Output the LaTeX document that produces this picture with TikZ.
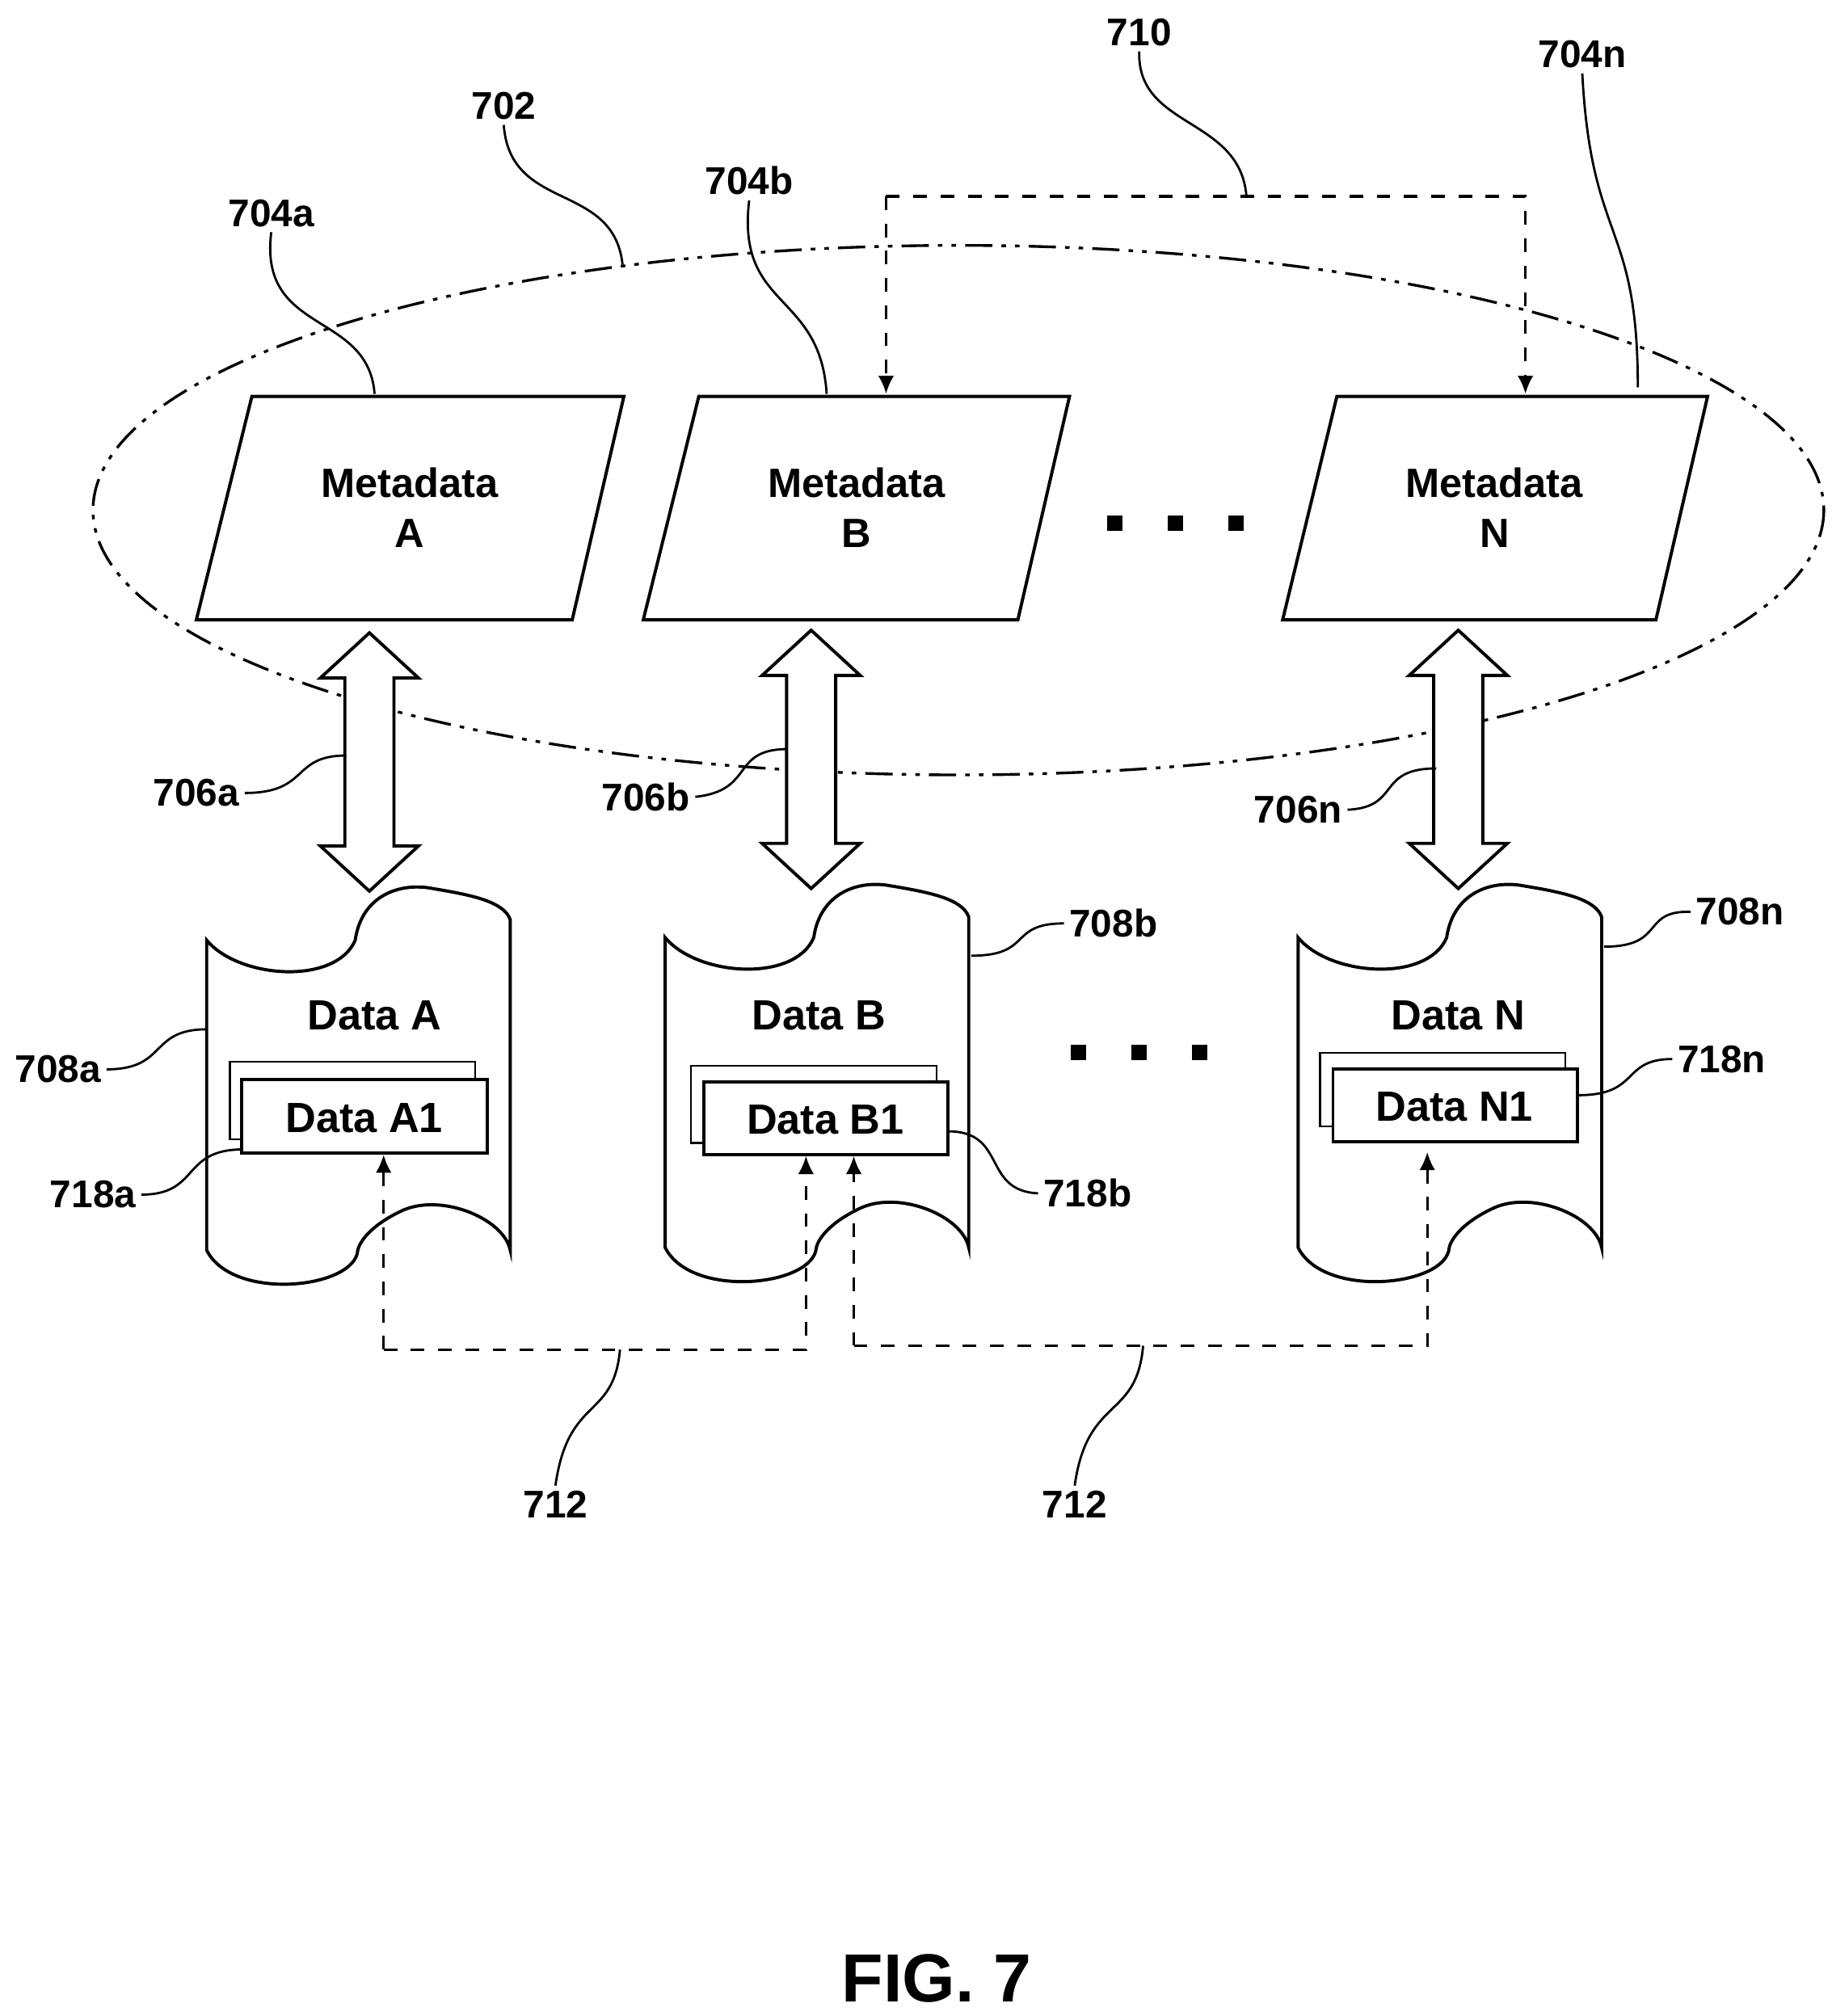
\documentclass[tikz,border=0pt]{standalone}
\usepackage{fontspec}
\setmainfont{Liberation Sans}
\usetikzlibrary{calc,arrows.meta}
\tikzset{>=latex}
\tikzset{
  lbl/.style={font=\bfseries\fontsize{8.5}{10}\selectfont, inner sep=1pt},
  txt/.style={font=\bfseries\fontsize{9}{11}\selectfont, align=center},
  dtxt/.style={font=\bfseries\fontsize{9.3}{11}\selectfont},
  leader/.style={line width=0.5pt},
  link/.style={dashed, line width=0.6pt, ->, >={Latex[length=4pt,width=3.5pt]}},
  shp/.style={line width=0.7pt},
}
\begin{document}
\begin{tikzpicture}[x=0.01cm,y=-0.01cm]
\useasboundingbox (0,0) rectangle (1418,1561);
% group ellipse
\draw [line width=0.6pt, dash pattern=on 6pt off 2pt on 1pt off 2pt on 1pt off 2pt] (742,395) ellipse [x radius=670, y radius=205];
% metadata
\draw [shp, fill=white] (195,307)--(483,307)--(443,480)--(152,480)--cycle;
\draw [shp, fill=white] (541,307)--(828,307)--(788,480)--(498,480)--cycle;
\draw [shp, fill=white] (1035,307)--(1322,307)--(1282,480)--(993,480)--cycle;
\node [txt] (metaA) at (317,393) {Metadata\\A};
\node [txt] (metaB) at (663,393) {Metadata\\B};
\node [txt] (metaN) at (1157,393) {Metadata\\N};
\foreach \x in {863,910,957} \fill (\x-6,399) rectangle (\x+6,411);
\foreach \x in {835,882,929} \fill (\x-6,809) rectangle (\x+6,821);
% double arrows
\foreach \x/\a/\b in {286/490/690, 628/488/688, 1129/488/688}
  \draw [shp, fill=white] (\x,\a)--(\x+38,\a+35)--(\x+19,\a+35)--(\x+19,\b-35)--(\x+38,\b-35)--(\x,\b)
     --(\x-38,\b-35)--(\x-19,\b-35)--(\x-19,\a+35)--(\x-38,\a+35)--cycle;
% storage
\foreach \l/\t in {160/688, 515/686, 1005/686} {
  \draw [shp, fill=white] (\l,\t+40) .. controls (\l+25,\t+70) and (\l+100,\t+75) .. (\l+115,\t+40)
     .. controls (\l+120,\t+5) and (\l+150,\t-5) .. (\l+175,\t)
     .. controls (\l+205,\t+5) and (\l+230,\t+10) .. (\l+235,\t+24)
     -- (\l+235,\t+280)
     .. controls (\l+230,\t+255) and (\l+180,\t+235) .. (\l+150,\t+250)
     .. controls (\l+125,\t+262) and (\l+118,\t+275) .. (\l+117,\t+280)
     .. controls (\l+115,\t+310) and (\l+20,\t+320) .. (\l,\t+280) -- cycle;
}
\node [dtxt] (dataA) at (290,786) {Data A};
\node [dtxt] (dataB) at (634,786) {Data B};
\node [dtxt] (dataN) at (1129,786) {Data N};
\draw [line width=0.4pt, fill=white] (178,822) rectangle (368,882);
\draw [shp, fill=white] (187,836) rectangle (377,893);
\node [dtxt] (dataA1) at (282,866) {Data A1};
\draw [line width=0.4pt, fill=white] (535,825) rectangle (725,885);
\draw [shp, fill=white] (545,838) rectangle (734,894);
\node [dtxt] (dataB1) at (639,867) {Data B1};
\draw [line width=0.4pt, fill=white] (1022,815) rectangle (1212,872);
\draw [shp, fill=white] (1032,828) rectangle (1221,884);
\node [dtxt] (dataN1) at (1126,857) {Data N1};
% links
\draw [link] (686,152) -- (686,305);
\draw [link] (686,152) -- (1181,152) -- (1181,305);
\draw [link] (297,1045) -- (297,894);
\draw [link] (297,1045) -- (624,1045) -- (624,895);
\draw [link] (661,1042) -- (661,895);
\draw [link] (661,1042) -- (1105,1042) -- (1105,892);
% labels
\node [lbl] (l710) at (882,25) {710};
\node [lbl] (l702) at (390,82) {702};
\node [lbl] (l704a) at (210,165) {704a};
\node [lbl] (l704b) at (580,140) {704b};
\node [lbl] (l704n) at (1225,42) {704n};
\node [lbl] (l706a) at (152,614) {706a};
\node [lbl] (l706b) at (500,617) {706b};
\node [lbl] (l706n) at (1005,627) {706n};
\node [lbl] (l708a) at (45,828) {708a};
\node [lbl] (l708b) at (862,715) {708b};
\node [lbl] (l708n) at (1347,706) {708n};
\node [lbl] (l718a) at (72,925) {718a};
\node [lbl] (l718b) at (842,924) {718b};
\node [lbl] (l718n) at (1333,820) {718n};
\node [lbl] (l712a) at (430,1165) {712};
\node [lbl] (l712b) at (832,1165) {712};
\node [font=\bfseries\fontsize{15}{18}\selectfont] (fig) at (725,1532) {FIG. 7};
% leaders
\draw [leader] (l710.south) .. controls (880,100) and (960,90) .. (965,152);
\draw [leader] (l702.south) .. controls (395,165) and (475,140) .. (482,205);
\draw [leader] (l704a.south) .. controls (200,260) and (285,240) .. (290,305);
\draw [leader] (l704b.south) .. controls (570,240) and (635,225) .. (640,305);
\draw [leader] (l704n.south) .. controls (1232,190) and (1268,170) .. (1268,300);
\draw [leader] (l706a.east) .. controls (240,614) and (225,585) .. (268,585);
\draw [leader] (l706b.east) .. controls (585,612) and (565,580) .. (610,580);
\draw [leader] (l706n.east) .. controls (1085,625) and (1065,595) .. (1112,595);
\draw [leader] (l708a.east) .. controls (130,828) and (115,797) .. (160,797);
\draw [leader] (l708b.west) .. controls (780,715) and (800,740) .. (752,740);
\draw [leader] (l708n.west) .. controls (1270,705) and (1290,733) .. (1242,733);
\draw [leader] (l718a.east) .. controls (155,925) and (140,890) .. (188,890);
\draw [leader] (l718b.west) .. controls (760,922) and (780,876) .. (734,876);
\draw [leader] (l718n.west) .. controls (1255,820) and (1270,848) .. (1222,848);
\draw [leader] (l712a.north) .. controls (440,1080) and (475,1100) .. (480,1045);
\draw [leader] (l712b.north) .. controls (842,1080) and (880,1100) .. (885,1042);
\end{tikzpicture}
\end{document}
